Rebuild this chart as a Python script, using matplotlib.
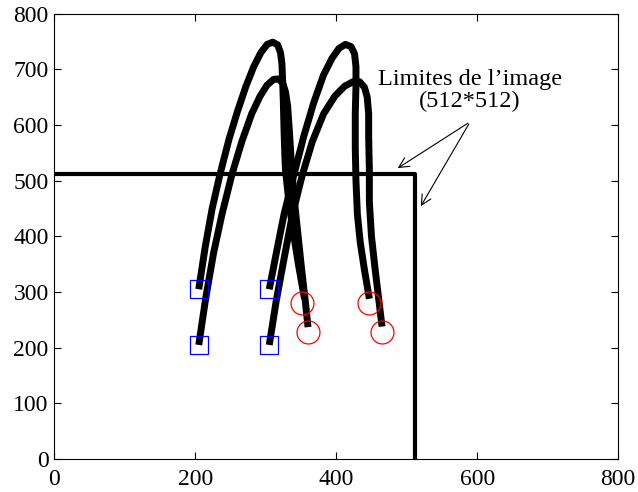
import matplotlib
matplotlib.use("Agg")
import matplotlib.pyplot as plt

plt.rcParams['font.family'] = ['Liberation Serif', 'DejaVu Serif']

# trajectories (x, y in image pixels)
outer_left_x = [205, 214, 224, 235, 248, 260, 272, 283, 293, 302, 310, 317, 321, 323, 324,
                325, 326, 327, 328, 333, 340, 347, 355]
outer_left_y = [305, 380, 450, 511, 575, 625, 670, 705, 730, 745, 749, 744, 730, 710, 680,
                640, 590, 550, 520, 460, 400, 345, 288]

inner_left_x = [205, 215, 226, 238, 252, 266, 280, 292, 302, 311, 318, 324, 328, 331, 333,
                335, 337, 341, 346, 351, 356, 360]
inner_left_y = [205, 290, 370, 440, 511, 570, 620, 652, 672, 682, 683, 676, 660, 635, 600,
                560, 520, 460, 400, 340, 285, 237]

outer_right_x = [305, 315, 326, 340, 354, 368, 382, 394, 404, 413, 421, 426, 428, 428, 427,
                 427, 428, 430, 434, 440, 447]
outer_right_y = [305, 370, 440, 511, 580, 640, 690, 720, 738, 745, 741, 728, 705, 670, 620,
                 560, 500, 440, 390, 340, 288]

inner_right_x = [305, 315, 326, 338, 352, 366, 382, 398, 412, 424, 433, 440, 444, 446, 446,
                 447, 447, 450, 455, 460, 465]
inner_right_y = [205, 285, 360, 440, 511, 570, 620, 652, 670, 678, 678, 668, 650, 620, 580,
                 520, 462, 400, 343, 290, 238]

# start points (squares) and end points (circles)
start_x = [205, 205, 305, 305]
start_y = [305, 205, 305, 205]
end_x = [352, 360, 447, 465]
end_y = [281, 228, 281, 228]

img_size = 512

fig = plt.figure(figsize=(6.38, 4.92), dpi=100)
ax = fig.add_axes([0.085, 0.067, 0.884, 0.905])

# image limits
ax.plot([0, img_size, img_size], [img_size, img_size, 0], color="black", linewidth=3)

for xs, ys in [(outer_left_x, outer_left_y), (inner_left_x, inner_left_y),
               (outer_right_x, outer_right_y), (inner_right_x, inner_right_y)]:
    ax.plot(xs, ys, color="black", linewidth=5, solid_capstyle="butt", solid_joinstyle="round")

ax.plot(start_x, start_y, linestyle="none", marker="s", markersize=13.5,
        markerfacecolor="none", markeredgecolor="blue", markeredgewidth=0.9)
ax.plot(end_x, end_y, linestyle="none", marker="o", markersize=16.5,
        markerfacecolor="none", markeredgecolor="red", markeredgewidth=0.9)

ax.text(590, 662, "Limites de l’image\n(512*512)", ha="center", va="center",
        fontsize=17.5, linespacing=1.05)
arrow = dict(arrowstyle="->", color="black", linewidth=0.8, mutation_scale=18)
ax.annotate("", xy=(484, 520), xytext=(590, 606), arrowprops=arrow)
ax.annotate("", xy=(518, 450), xytext=(590, 606), arrowprops=arrow)

ax.set_xlim(0, 800)
ax.set_ylim(0, 800)
ax.set_xticks([0, 200, 400, 600, 800])
ax.set_yticks(range(0, 801, 100))
ax.tick_params(direction="in", top=True, right=True, labelsize=17, length=5)
ax.tick_params(axis="x", pad=7)
ax.tick_params(axis="y", pad=4)

fig.savefig("out.png", dpi=100)
